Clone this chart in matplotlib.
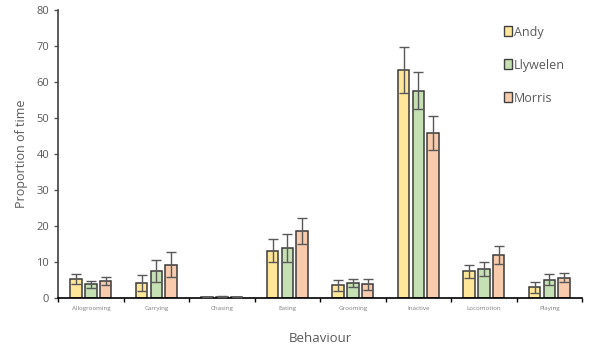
import numpy as np
import matplotlib.pyplot as plt
from matplotlib.patches import Patch

# Behaviour categories and mean proportions of time per animal
behaviours = ['Allogrooming', 'Carrying', 'Chasing', 'Eating', 'Grooming',
              'Inactive', 'Locomotion', 'Playing']
names = ['Andy', 'Llywelen', 'Morris']

andy = [5.3, 4.2, 0.3, 13.2, 3.5, 63.3, 7.5, 3.0]
llywelen = [3.8, 7.5, 0.4, 13.8, 4.2, 57.6, 8.1, 5.1]
morris = [4.8, 9.3, 0.3, 18.6, 3.8, 45.8, 12.0, 5.7]

# error bar half-lengths
andy_err = [1.5, 2.1, 0.1, 3.2, 1.6, 6.3, 1.8, 1.5]
llywelen_err = [0.9, 3.0, 0.1, 3.9, 1.2, 5.1, 2.0, 1.6]
morris_err = [1.1, 3.4, 0.1, 3.6, 1.5, 4.8, 2.4, 1.3]

colors = ['#FFE699', '#C5E0B3', '#F8CBAD']

plt.rcParams['font.family'] = ['Open Sans', 'DejaVu Sans']

fig = plt.figure(figsize=(6, 3.57), dpi=100)
ax = fig.add_axes([0.097, 0.165, 0.873, 0.807])

x = np.arange(len(behaviours))
width = 0.175
step = 0.225
series = [andy, llywelen, morris]
errs = [andy_err, llywelen_err, morris_err]
for i, (vals, err) in enumerate(zip(series, errs)):
    ax.bar(x + (i - 1) * step, vals, width, color=colors[i],
           edgecolor='#3a3a3a', linewidth=1.1, zorder=2)
    ax.errorbar(x + (i - 1) * step, vals, yerr=err, fmt='none',
                ecolor='#595959', elinewidth=1.0, capsize=3.5, capthick=1.0,
                zorder=3)

ax.set_xlim(-0.5, len(behaviours) - 0.5)
ax.set_ylim(0, 80)
ax.set_yticks(range(0, 81, 10))
ax.tick_params(axis='y', labelsize=8, colors='#595959', length=3,
               direction='out', width=1)

# category boundaries as major ticks, labels at minor ticks
ax.set_xticks(np.arange(-0.5, len(behaviours), 1.0))
ax.set_xticklabels([])
ax.set_xticks(x, minor=True)
ax.set_xticklabels(behaviours, minor=True, fontsize=4.5, color='#7f7f7f')
ax.tick_params(axis='x', which='major', length=3, width=1, color='black')
ax.tick_params(axis='x', which='minor', length=0, pad=6)

for s in ['top', 'right']:
    ax.spines[s].set_visible(False)
ax.spines['left'].set_color('#404040')
ax.spines['bottom'].set_color('black')
ax.spines['left'].set_linewidth(1.2)
ax.spines['bottom'].set_linewidth(1.2)

ax.set_ylabel('Proportion of time', fontsize=9, color='#595959', labelpad=6)
ax.set_xlabel('Behaviour', fontsize=9.5, color='#595959', labelpad=15)

handles = [Patch(facecolor=c, edgecolor='#404040', linewidth=1.0) for c in colors]
ax.legend(handles, names, loc='upper left', bbox_to_anchor=(0.83, 0.985),
          frameon=False, fontsize=9, labelcolor='#595959',
          handlelength=0.6, handleheight=0.8, handletextpad=0.2,
          labelspacing=1.6)

fig.savefig('out.png', dpi=100)
